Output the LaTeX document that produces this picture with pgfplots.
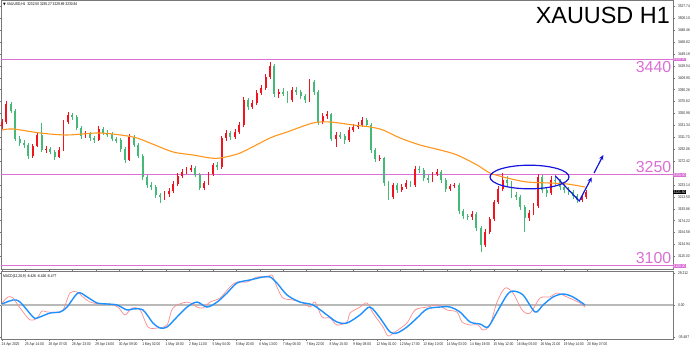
\documentclass[border=0pt]{standalone}
\usepackage{pgfplots}
\pgfplotsset{compat=1.18}
\usepackage{pgfplotstable}
\usepackage{fontspec}
\setmainfont{Liberation Sans}
\newfontfamily\dejavu{DejaVu Sans}
\newfontfamily\narrowf{Liberation Sans}[FakeStretch=0.82]
\usetikzlibrary{arrows.meta}
\definecolor{upc}{RGB}{240,20,30}
\definecolor{dnc}{RGB}{70,185,120}
\definecolor{maor}{RGB}{255,150,30}
\definecolor{lvl}{RGB}{218,112,214}
\definecolor{annb}{RGB}{20,20,220}
\definecolor{macdb}{RGB}{30,144,255}
\definecolor{macds}{RGB}{250,140,140}
\definecolor{frm}{RGB}{120,120,120}
\newcommand{\tinyf}{\narrowf\fontsize{4}{4.5}\selectfont}
\pgfplotstableread{
x o h l c
0 3330.0 3342 3326 3336.9
3 3336.9 3372 3334 3366.6
6 3366.6 3370 3351 3355.1
9 3355.1 3358 3305 3308.9
12 3308.9 3314 3297 3302.3
15 3302.3 3308 3294 3299.0
18 3299.0 3302 3276 3280.9
21 3280.9 3301 3278 3297.3
24 3297.3 3320 3295 3315.5
27 3315.5 3335 3287 3290.8
30 3290.8 3297 3286 3292.5
33 3292.5 3296 3284 3288.0
36 3288.0 3291 3275 3279.2
39 3279.2 3295 3277 3290.8
42 3290.8 3340 3289 3336.9
45 3336.9 3354 3333 3348.5
48 3348.5 3352 3340 3345.2
51 3345.2 3348 3323 3327.0
54 3327.0 3330 3309 3313.8
57 3313.8 3322 3310 3317.1
60 3317.1 3320 3306 3310.5
63 3310.5 3314 3303 3307.2
66 3307.2 3330 3305 3325.4
69 3325.4 3328 3315 3318.8
72 3318.8 3323 3313 3317.1
75 3317.1 3320 3305 3308.9
78 3308.9 3313 3302 3307.2
81 3307.2 3310 3288 3292.4
84 3292.4 3295 3270 3274.3
87 3274.3 3317 3272 3312.2
90 3312.2 3315 3295 3299.0
93 3299.0 3302 3277 3280.9
96 3280.9 3284 3242 3246.2
99 3246.2 3249 3228 3233.0
102 3233.0 3238 3225 3229.7
105 3229.7 3233 3211 3216.5
108 3216.5 3220 3203 3213.3
111 3213.3 3223 3209 3218.2
114 3218.2 3228 3214 3223.1
117 3223.1 3239 3220 3234.7
120 3234.7 3252 3232 3247.9
123 3247.9 3259 3244 3254.5
126 3254.5 3263 3251 3257.8
129 3257.8 3266 3254 3261.1
132 3261.1 3264 3246 3249.5
135 3249.5 3252 3224 3228.1
138 3228.1 3240 3225 3236.3
141 3236.3 3255 3233 3251.2
144 3251.2 3270 3248 3266.0
147 3266.0 3271 3258 3262.7
150 3262.7 3314 3260 3310.5
153 3310.5 3324 3306 3318.8
156 3318.8 3322 3308 3312.2
159 3312.2 3325 3309 3320.4
162 3320.4 3337 3317 3332.0
165 3332.0 3378 3329 3373.2
168 3373.2 3376 3357 3361.7
171 3361.7 3373 3358 3368.3
174 3368.3 3389 3365 3384.7
177 3384.7 3398 3381 3393.0
180 3393.0 3416 3390 3411.1
183 3411.1 3436 3408 3429.3
186 3429.3 3432 3378 3383.1
189 3383.1 3392 3376 3386.0
192 3386.0 3393 3379 3384.7
195 3384.7 3388 3368 3373.2
198 3373.2 3394 3370 3389.7
201 3389.7 3394 3382 3386.4
204 3386.4 3390 3375 3379.8
207 3379.8 3383 3368 3373.2
210 3373.2 3408 3370 3402.9
213 3402.9 3406 3382 3386.4
216 3386.4 3389 3332 3336.9
219 3336.9 3352 3333 3346.8
222 3346.8 3355 3342 3349.5
225 3349.5 3352 3305 3308.9
228 3308.9 3320 3296 3315.5
231 3315.5 3320 3309 3313.8
234 3313.8 3317 3300 3307.2
237 3307.2 3328 3304 3323.7
240 3323.7 3333 3320 3328.7
243 3328.7 3337 3325 3332.0
246 3332.0 3345 3328 3340.2
249 3340.2 3343 3328 3332.0
252 3332.0 3335 3286 3290.8
255 3290.8 3294 3271 3275.9
258 3275.9 3283 3272 3277.6
261 3277.6 3280 3232 3236.3
264 3236.3 3240 3208 3213.3
267 3213.3 3237 3210 3233.0
270 3233.0 3236 3220 3224.8
273 3224.8 3234 3221 3229.7
276 3229.7 3241 3226 3236.3
279 3236.3 3240 3229 3233.5
282 3233.5 3264 3230 3259.4
285 3259.4 3265 3253 3257.8
288 3257.8 3261 3240 3244.6
291 3244.6 3249 3237 3241.3
294 3241.3 3255 3238 3251.2
297 3251.2 3259 3248 3254.5
300 3254.5 3257 3237 3241.3
303 3241.3 3244 3222 3226.4
306 3226.4 3235 3223 3231.4
309 3231.4 3237 3228 3233.0
312 3233.0 3236 3186 3190.2
315 3190.2 3194 3177 3181.9
318 3181.9 3186 3175 3180.3
321 3180.3 3190 3176 3185.2
324 3185.2 3188 3157 3162.2
327 3162.2 3165 3123 3134.1
330 3134.1 3160 3130 3155.5
333 3155.5 3181 3152 3177.0
336 3177.0 3209 3174 3205.0
339 3205.0 3231 3201 3226.4
342 3226.4 3252 3223 3241.3
345 3241.3 3248 3231 3236.3
348 3236.3 3239 3212 3216.5
351 3216.5 3221 3208 3213.3
354 3213.3 3216 3192 3196.8
357 3196.8 3200 3156 3178.6
360 3178.6 3192 3174 3186.9
363 3186.9 3203 3183 3198.4
366 3198.4 3251 3195 3246.2
369 3246.2 3249 3220 3224.8
372 3224.8 3229 3214 3219.8
375 3219.8 3248 3217 3241.3
378 3241.3 3249 3233 3239.6
381 3239.6 3243 3225 3229.7
384 3229.7 3235 3220 3224.8
387 3224.8 3229 3217 3221.5
390 3221.5 3225 3210 3214.9
393 3214.9 3218 3204 3208.3
396 3208.3 3218 3205 3213.3
399 3213.3 3225 3210 3221.5
}\candles
\begin{document}
\begin{tikzpicture}
\path[use as bounding box] (0bp,0bp) rectangle (692bp,-348bp);
\begin{axis}[
  at={(1bp,0bp)}, anchor=north west,
  scale only axis, width=672bp, height=269bp,
  xmin=-0.7, xmax=458.3, ymin=3094.5, ymax=3538.1,
  axis line style={frm, line width=0.8bp},
  xtick=\empty,
  ytick={3115.30,3134.94,3154.58,3174.22,3193.86,3213.50,3233.14,3272.42,3292.06,3311.70,3331.34,3350.98,3370.62,3390.26,3409.90,3429.54,3449.18,3468.82,3488.46,3508.10,3527.74},
  yticklabel pos=right,
  tick align=outside, major tick length=2bp,
  tick style={frm, line width=0.4bp},
  yticklabel style={font=\tinyf, anchor=west, xshift=-0.5bp, text=black!85,
    /pgf/number format/fixed, /pgf/number format/fixed zerofill,
    /pgf/number format/precision=2, /pgf/number format/1000 sep={},
    /pgf/number format/assume math mode=true},
  clip=false,
]
% level lines
\addplot[lvl, line width=0.9bp, forget plot] coordinates {(-0.7,3440) (458.3,3440)};
\addplot[lvl, line width=0.9bp, forget plot] coordinates {(-0.7,3250) (458.3,3250)};
\addplot[lvl, line width=0.9bp, forget plot] coordinates {(-0.7,3100) (458.3,3100)};
% wicks
\addplot[draw=none, mark=none, forget plot, restrict y to domain=3000:4000, error bars/.cd, y dir=both, y explicit, error mark=none, error bar style={draw=upc, line width=0.55bp, solid}]
  table[x=x, y expr={ifthenelse(\thisrow{c}>=\thisrow{o},(\thisrow{h}+\thisrow{l})/2,-1000)}, y error expr={(\thisrow{h}-\thisrow{l})/2}] {\candles};
\addplot[draw=none, mark=none, forget plot, restrict y to domain=3000:4000, error bars/.cd, y dir=both, y explicit, error mark=none, error bar style={draw=dnc, line width=0.55bp, solid}]
  table[x=x, y expr={ifthenelse(\thisrow{c}<\thisrow{o},(\thisrow{h}+\thisrow{l})/2,-1000)}, y error expr={(\thisrow{h}-\thisrow{l})/2}] {\candles};
% bodies
\addplot[draw=none, mark=none, forget plot, restrict y to domain=3000:4000, error bars/.cd, y dir=both, y explicit, error mark=none, error bar style={draw=upc, line width=1.9bp, solid}]
  table[x=x, y expr={ifthenelse(\thisrow{c}>=\thisrow{o},(\thisrow{o}+\thisrow{c})/2,-1000)}, y error expr={max(abs(\thisrow{c}-\thisrow{o})/2,0.5)}] {\candles};
\addplot[draw=none, mark=none, forget plot, restrict y to domain=3000:4000, error bars/.cd, y dir=both, y explicit, error mark=none, error bar style={draw=dnc, line width=1.9bp, solid}]
  table[x=x, y expr={ifthenelse(\thisrow{c}<\thisrow{o},(\thisrow{o}+\thisrow{c})/2,-1000)}, y error expr={max(abs(\thisrow{c}-\thisrow{o})/2,0.5)}] {\candles};
% moving average
\addplot[maor, line width=1.1bp, smooth, tension=0.5, mark=none] coordinates {
(0,3323.7) (7.5,3325.4) (26,3318.8) (44.4,3315.5) (67,3318.8) (89.5,3312.2) (101,3302.3) (116.8,3287.5) (130.5,3282.5) (142,3277.6) (149,3277.6) (162.6,3285.8) (183,3310.5) (194.7,3320.4) (212.4,3335.3) (224,3336.9) (239.8,3332.0) (251.4,3328.7) (260.2,3323.7) (271.9,3310.5) (285.5,3299.0) (299.2,3290.8) (310.8,3282.5) (324.5,3266.0) (333.3,3252.8) (345,3244.6) (358.6,3238.0) (374.3,3236.3) (386,3234.7) (398.2,3229.7)};
% annotations
\draw[annb, line width=1.2bp] (axis cs:360.3,3246.2) ellipse [x radius=39.5bp, y radius=11.8bp];
\draw[annb, line width=1.2bp, -{Stealth[length=5bp,width=4.5bp]}] (axis cs:377.9,3247.9) -- (axis cs:394.3,3206.7) -- (axis cs:402.8,3245.7);
\draw[annb, line width=1.2bp, -{Stealth[length=5bp,width=4.5bp]}] (axis cs:404.4,3252.8) -- (axis cs:410.7,3282.5);
% level labels
\node[anchor=north east, text=lvl, font=\fontsize{16}{16}\selectfont, inner sep=0pt] at (axis cs:458.3,3440) [xshift=-1.5bp, yshift=-2bp] {3440};
\node[anchor=south east, text=lvl, font=\fontsize{16}{16}\selectfont, inner sep=0pt] at (axis cs:458.3,3250) [xshift=-1.5bp, yshift=1.5bp] {3250};
\node[anchor=south east, text=lvl, font=\fontsize{16}{16}\selectfont, inner sep=0pt] at (axis cs:458.3,3100) [xshift=-1.5bp, yshift=1.5bp] {3100};
\node[fill=lvl, text=white, font=\tinyf, inner sep=0.5bp, anchor=west] at (axis cs:458.3,3440) {3440.00};
\node[fill=lvl, text=white, font=\tinyf, inner sep=0.5bp, anchor=west] at (axis cs:458.3,3250) {3250.00};
\node[fill=lvl, text=white, font=\tinyf, inner sep=0.5bp, anchor=west] at (axis cs:458.3,3100) {3100.00};
\node[fill=black, text=white, font=\tinyf, inner sep=0.5bp, anchor=west] at (axis cs:458.3,3221.5) {3221.50};
% titles
\node[anchor=north east, font=\fontsize{23.5}{23.5}\selectfont, inner sep=0pt] at (rel axis cs:1,1) [xshift=-3bp, yshift=-6.7bp] {XAUUSD H1};
\node[anchor=north west, font=\tinyf, inner sep=0pt] at (rel axis cs:0,1) [xshift=2bp, yshift=-3bp] {{\dejavu\fontsize{3.5}{4}\selectfont ▼} XAUUSD,H1\ \ 3232.50 3235.27 3229.89 3230.84};
\end{axis}
\begin{axis}[
  at={(1bp,-271bp)}, anchor=north west,
  scale only axis, width=672bp, height=68bp,
  xmin=-0.7, xmax=458.3, ymin=-30, ymax=30,
  axis line style={frm, line width=0.8bp},
  xtick={0,16,...,400},
  xticklabels={24 Apr 2025,25 Apr 14:00,28 Apr 07:00,28 Apr 23:00,29 Apr 16:00,30 Apr 09:00,1 May 02:00,1 May 18:00,2 May 11:00,5 May 04:00,5 May 20:00,6 May 13:00,7 May 06:00,7 May 22:00,8 May 15:00,9 May 08:00,12 May 01:00,12 May 17:00,13 May 10:00,14 May 03:00,14 May 19:00,15 May 12:00,16 May 05:00,16 May 21:00,19 May 14:00,20 May 07:00},
  xticklabel style={font=\tinyf, anchor=north west, inner sep=0pt, yshift=-1.5bp, xshift=-0.5bp, text=black!85},
  ytick={28.2,0,-28.2}, yticklabels={29.212,0.00,-35.487},
  yticklabel pos=right,
  yticklabel style={font=\tinyf, anchor=west, xshift=-0.5bp, text=black!85},
  tick align=outside, major tick length=2bp,
  tick style={frm, line width=0.4bp},
  clip=false,
]
\addplot[gray!55, line width=1.4bp, mark=none] coordinates {(-0.7,0) (458.3,0)};
\addplot[macds, line width=0.7bp, smooth, tension=0.5, mark=none] coordinates {
(0,1.8) (4.1,7.1) (7.5,6.2) (12.3,-2.6) (19.1,-13.2) (23.9,-11.5) (27.3,-5.3) (30.7,-6.2) (37.6,-6.2) (41.7,-4.4) (46.4,10.6) (51.2,11.5) (55.3,7.1) (60.1,2.6) (66.9,0.9) (73.7,0.9) (79.2,-1.8) (84.0,-8.8) (88.8,-2.6) (94.3,-4.4) (99.7,-19.4) (105.9,-20.3) (112.7,-17.6) (116.8,-2.6) (126.4,2.6) (133.2,-1.8) (137.3,-2.6) (142.1,2.6) (148.9,6.2) (155.7,15.9) (160.5,20.3) (167.3,20.3) (174.2,24.7) (181.0,24.7) (184.4,26.5) (187.8,15.9) (191.9,6.2) (198.8,4.4) (205.6,1.8) (210.4,-1.8) (213.8,2.6) (218.6,-10.6) (224.0,-11.5) (228.8,-17.6) (235.6,-15.0) (237.7,-7.1) (244.5,-1.8) (249.3,1.8) (253.4,-7.1) (260.2,-19.4) (263.6,-27.3) (268.4,-23.8) (276.6,-15.9) (282.1,-4.4) (290.3,-1.8) (297.8,0) (303.9,-4.4) (310.8,-6.2) (314.2,-15.0) (319.7,-17.6) (325.1,-17.6) (328.5,-22.1) (333.3,-17.6) (338.1,2.6) (343.6,15.0) (349.0,10.6) (355.2,-4.4) (360.7,-7.1) (367.5,6.2) (374.3,7.1) (379.1,10.6) (385.9,7.1) (394.8,1.8) (398.2,-1.8)};
\addplot[macdb, line width=1.4bp, smooth, tension=0.5, mark=none] coordinates {
(0,0.9) (7.5,4.4) (12.3,2.6) (21.2,-10.6) (23.9,-11.5) (32.8,-7.1) (39.6,-6.2) (44.4,-1.8) (51.9,10.6) (58.1,7.1) (64.9,1.8) (71.7,0.9) (78.5,0) (85.4,-4.4) (89.5,-3.5) (96.3,-4.4) (103.1,-15.9) (107.9,-20.3) (112.7,-19.4) (119.5,-10.6) (126.4,-1.8) (133.2,2.6) (140.0,-1.8) (146.9,2.6) (153.7,10.6) (160.5,19.4) (169.4,22.1) (178.3,24.7) (183.1,24.7) (187.8,19.4) (194.7,8.8) (203.5,2.6) (212.4,0) (222.0,-8.8) (228.8,-15.0) (235.6,-15.9) (244.5,-8.8) (251.3,-1.8) (258.2,-11.5) (265.0,-23.8) (269.8,-24.7) (276.6,-19.4) (283.4,-11.5) (290.3,-3.5) (299.2,-1.8) (306.0,-1.8) (312.8,-6.2) (319.7,-15.0) (326.5,-16.8) (331.9,-19.4) (338.1,-6.2) (344.9,8.8) (349.0,12.3) (355.9,8.8) (364.1,-6.2) (369.5,0) (376.4,7.1) (383.2,9.7) (390.0,7.1) (398.2,0)};
\node[anchor=north west, font=\tinyf, inner sep=0pt] at (rel axis cs:0,1) [xshift=2bp, yshift=-3bp] {MACD(12,26,9) -6.426 -6.426 -6.477};
\end{axis}
\end{tikzpicture}
\end{document}
